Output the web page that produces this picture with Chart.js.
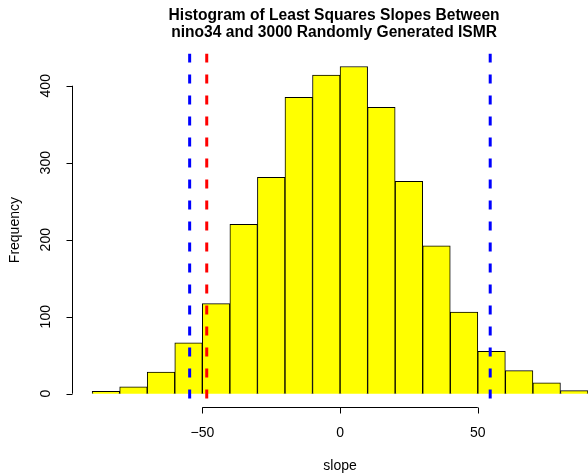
<!DOCTYPE html>
<html>
<head>
<meta charset="utf-8">
<script src="https://cdn.jsdelivr.net/npm/chart.js@4"></script>
<style>
  html, body { margin: 0; padding: 0; background: #fff; }
  #wrap { width: 588px; height: 473px; }
</style>
</head>
<body>
<div id="wrap"><canvas id="hist" width="588" height="473"></canvas></div>
<script>
// histogram data
const breaks = [-90, -80, -70, -60, -50, -40, -30, -20, -10, 0, 10, 20, 30, 40, 50, 60, 70, 80, 90];
const counts = [3, 9, 28, 66, 117, 220, 281, 385, 414, 425, 372, 276, 192, 106, 55, 30, 14, 4];
const xTicks = [-50, 0, 50];
const yTicks = [0, 100, 200, 300, 400];
const blueLines = [-54.6, 54.5];
const redLines = [-48.4];

const titleLines = ['Histogram of Least Squares Slopes Between', 'nino34 and 3000 Randomly Generated ISMR'];
const xLabel = 'slope';
const yLabel = 'Frequency';

const FONT = '"Liberation Sans", Arial, Helvetica, sans-serif';

// bars sit at the middle of each bin
const barData = counts.map((c, i) => ({ x: (breaks[i] + breaks[i + 1]) / 2, y: c }));

function vline(x, color) {
  return {
    type: 'line',
    data: [{ x: x, y: 442 }, { x: x, y: -17 }],
    borderColor: color,
    borderWidth: 3,
    borderDash: [9, 12],
    pointRadius: 0,
    fill: false,
    order: 0
  };
}

// R style axes and titles
const rAxes = {
  id: 'rAxes',
  afterDraw(chart) {
    const ctx = chart.ctx;
    const xs = chart.scales.x;
    const ys = chart.scales.y;
    const area = chart.chartArea;
    ctx.save();
    ctx.strokeStyle = '#000';
    ctx.fillStyle = '#000';
    ctx.lineWidth = 1;

    // y axis
    const yTop = ys.getPixelForValue(yTicks[yTicks.length - 1]);
    const yBot = ys.getPixelForValue(yTicks[0]);
    const ax = Math.round(area.left) + 0.5;
    ctx.beginPath();
    ctx.moveTo(ax, yBot);
    ctx.lineTo(ax, yTop);
    yTicks.forEach(v => {
      const py = Math.round(ys.getPixelForValue(v)) + 0.5;
      ctx.moveTo(ax, py);
      ctx.lineTo(ax - 6, py);
    });
    ctx.stroke();
    ctx.font = '14px ' + FONT;
    ctx.textAlign = 'center';
    ctx.textBaseline = 'middle';
    yTicks.forEach(v => {
      ctx.save();
      ctx.translate(46, ys.getPixelForValue(v));
      ctx.rotate(-Math.PI / 2);
      ctx.fillText(String(v), 0, 0);
      ctx.restore();
    });

    // x axis
    const ay = Math.round(area.bottom) + 0.5;
    ctx.beginPath();
    ctx.moveTo(xs.getPixelForValue(xTicks[0]), ay);
    ctx.lineTo(xs.getPixelForValue(xTicks[xTicks.length - 1]), ay);
    xTicks.forEach(v => {
      const px = Math.round(xs.getPixelForValue(v)) + 0.5;
      ctx.moveTo(px, ay);
      ctx.lineTo(px, ay + 6);
    });
    ctx.stroke();
    xTicks.forEach(v => {
      ctx.fillText(v < 0 ? '\u2212' + Math.abs(v) : String(v), xs.getPixelForValue(v), 433);
    });

    // axis labels
    ctx.fillText(xLabel, xs.getPixelForValue(0), 466);
    ctx.save();
    ctx.translate(15, (area.top + area.bottom) / 2);
    ctx.rotate(-Math.PI / 2);
    ctx.fillText(yLabel, 0, 0);
    ctx.restore();

    // title
    ctx.font = 'bold 15.6px ' + FONT;
    ctx.fillText(titleLines[0], xs.getPixelForValue(0) - 6, 16);
    ctx.fillText(titleLines[1], xs.getPixelForValue(0) - 6, 33);
    ctx.restore();
  }
};

new Chart(document.getElementById('hist'), {
  type: 'bar',
  data: {
    datasets: [
      {
        label: 'slopes',
        data: barData,
        backgroundColor: '#ffff00',
        borderColor: '#000',
        borderWidth: 1,
        barPercentage: 1,
        categoryPercentage: 1,
        order: 1
      },
      ...blueLines.map(x => vline(x, '#0000ff')),
      ...redLines.map(x => vline(x, '#ff0000'))
    ]
  },
  options: {
    responsive: false,
    animation: false,
    devicePixelRatio: 1,
    layout: { padding: { left: 72.3, right: 0, top: 53.4, bottom: 66.2 } },
    plugins: {
      legend: { display: false },
      title: { display: false },
      tooltip: { enabled: false }
    },
    scales: {
      x: { type: 'linear', min: -97.2, max: 90, offset: false, display: false },
      y: { type: 'linear', min: -17, max: 442, display: false }
    }
  },
  plugins: [rAxes]
});
</script>
</body>
</html>
